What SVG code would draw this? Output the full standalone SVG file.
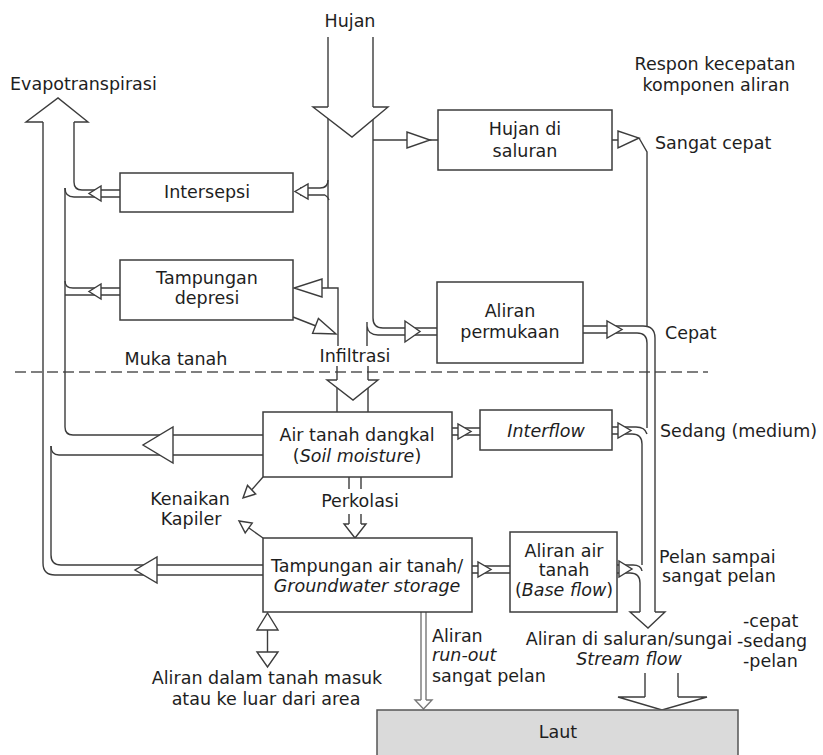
<svg xmlns="http://www.w3.org/2000/svg" width="823" height="755" viewBox="0 0 823 755">
<style>
.ln{fill:none;stroke:#3c3c3c;stroke-width:1.4}
.rn{fill:none;stroke:#777;stroke-width:1.4}
.hd{fill:#fff;stroke:#3c3c3c;stroke-width:1.4;stroke-linejoin:miter}
.box{fill:#fff;stroke:#3c3c3c;stroke-width:1.5}
.dash{fill:none;stroke:#555;stroke-width:1.5;stroke-dasharray:11 5}
text{font-family:"DejaVu Sans","Liberation Sans",sans-serif;font-size:17.5px;fill:#1e1e1e}
.m{text-anchor:middle}
.i{font-style:italic}
</style>
<rect width="823" height="755" fill="#fff"/>

<!-- ground level -->
<line class="dash" x1="15" y1="372" x2="708" y2="372"/>

<g id="connectors">
  <!-- Rain pipe -->
  <line class="ln" x1="328" y1="37" x2="328" y2="288"/>
  <path class="ln" d="M373,37 V318 Q373,328 383,328 H437"/>
  <path class="ln" d="M367,322 V346 M367,326 Q368,335 378,335 H437"/>
  <path class="ln" d="M373,140 H438"/>
  <!-- Intersepsi inflow -->
  <path class="ln" d="M328,180 Q328,188 320,188 H300 M325,195 H300 M325,195 Q328,197 329,200"/>
  <!-- Depresi inflow and jog -->
  <path class="ln" d="M318,288 H338 V346"/>
  <!-- Depresi to infiltration -->
  <line class="ln" x1="293" y1="317" x2="316" y2="326"/>
  <!-- Infiltration shafts -->
  <path class="ln" d="M337,366 V412 M368,366 V412"/>
  <!-- Hujan di saluran out -->
  <path class="ln" d="M612,140 H619 M639,138 L647,152 V326"/>
  <!-- Permukaan out + channel -->
  <path class="ln" d="M583,326 H643 Q655,326 655,338 V612"/>
  <path class="ln" d="M583,333 H637 Q647,333 647,343 V428"/>
  <!-- Interflow in/out -->
  <path class="ln" d="M452,428 H480 M452,435 H480"/>
  <path class="ln" d="M612,427 H636 Q645,427 647,434"/>
  <path class="ln" d="M612,434 H632 Q642,434 642,444 V565"/>
  <!-- Base flow in/out -->
  <path class="ln" d="M472,566 H510 M472,573 H510"/>
  <path class="ln" d="M617,565 H633 Q641,565 642,571"/>
  <path class="ln" d="M617,573 H630 Q640,573 640,583 V612"/>
  <!-- Evapotranspiration pipe -->
  <path class="ln" d="M43,122 V563 Q43,575 55,575 H263"/>
  <path class="ln" d="M74,122 V182 Q74,190 82,190 H120"/>
  <path class="ln" d="M65,188 Q65,197 74,197 H120"/>
  <path class="ln" d="M65,188 V427 Q65,435 73,435 H263"/>
  <path class="ln" d="M120,288 H73 Q65,288 65,281 M120,295 H65"/>
  <path class="ln" d="M263,455 H59 Q51,455 51,446"/>
  <path class="ln" d="M51,446 V555 Q51,565 61,565 H263"/>
  <!-- Percolation -->
  <path class="ln" d="M349,477 V489 M361,477 V489 M349,514 V524 M361,514 V524"/>
  <!-- Capillary rise -->
  <line class="ln" x1="263" y1="477" x2="252" y2="489.5"/>
  <line class="ln" x1="263" y1="538" x2="249" y2="528"/>
  <!-- Deep groundwater in/out -->
  <line class="ln" x1="267.5" y1="630" x2="267.5" y2="652"/>
  <!-- Run-out -->
  <path class="rn" d="M421,612 V700 M426,612 V700"/>
  <!-- Stream flow to sea -->
  <path class="ln" d="M645,673 V697 M678,673 V697"/>

  <!-- arrowheads -->
  <path class="hd" d="M328,107 H313 L352,137 L388,107 H373"/>
  <path class="hd" d="M43,122 H26 L58,98 L88,122 H74"/>
  <path class="hd" d="M337,380 H327 L353,400 L378,380 H368"/>
  <path class="hd" d="M640,612 H630 L648,628 L665,612 H655"/>
  <path class="hd" d="M645,697 H618 L662,710 L707,697 H678"/>
  <path class="hd" d="M349,524 H344 L355,538 L366,524 H361"/>
  <path class="hd" d="M421,700 H415 L423.5,709 L432,700 H426" style="stroke:#777"/>
  <polygon class="hd" points="407,132 407,148 430,140"/>
  <polygon class="hd" points="618,131 618,148 639,138"/>
  <polygon class="hd" points="308,184 308,199 295,191.5"/>
  <polygon class="hd" points="322,279 322,297 294,288"/>
  <polygon class="hd" points="312.6,333.3 318.4,318.5 336,334"/>
  <polygon class="hd" points="405,321 405,342 420,331.5"/>
  <polygon class="hd" points="607,321 607,338 622,329.5"/>
  <polygon class="hd" points="458,424 458,439 471,431.5"/>
  <polygon class="hd" points="618,423 618,438 631,430.5"/>
  <polygon class="hd" points="478,562 478,577 491,569.5"/>
  <polygon class="hd" points="619,561 619,577 632,569"/>
  <polygon class="hd" points="101,186 101,201 89,193.5"/>
  <polygon class="hd" points="101,284 101,299 89,291.5"/>
  <polygon class="hd" points="173,427 173,463 143,445"/>
  <polygon class="hd" points="157,557 157,583 135,570"/>
  <polygon class="hd" points="255.7,494 247.5,485.4 243,498"/>
  <polygon class="hd" points="252.2,523.1 245.2,532.9 239,521"/>
  <polygon class="hd" points="257,630 278,630 267.5,613"/>
  <polygon class="hd" points="257,652 278,652 267.5,667"/>
</g>

<g id="intersepsi">
  <rect class="box" x="120" y="173" width="173" height="39"/>
  <text class="m" x="207" y="198">Intersepsi</text>
</g>
<g id="tampungan-depresi">
  <rect class="box" x="120" y="260" width="173" height="60"/>
  <text class="m" x="207" y="284">Tampungan</text>
  <text class="m" x="207" y="304">depresi</text>
</g>
<g id="hujan-di-saluran">
  <rect class="box" x="438" y="110" width="174" height="60"/>
  <text class="m" x="525" y="135">Hujan di</text>
  <text class="m" x="525" y="157">saluran</text>
</g>
<g id="aliran-permukaan">
  <rect class="box" x="437" y="282" width="146" height="81"/>
  <text class="m" x="510" y="317">Aliran</text>
  <text class="m" x="510" y="338">permukaan</text>
</g>
<g id="air-tanah-dangkal">
  <rect class="box" x="263" y="412" width="189" height="65"/>
  <text class="m" x="357" y="441">Air tanah dangkal</text>
  <text class="m" x="357" y="462">(<tspan class="i">Soil moisture</tspan>)</text>
</g>
<g id="interflow">
  <rect class="box" x="480" y="410" width="132" height="40"/>
  <text class="m i" x="546" y="437">Interflow</text>
</g>
<g id="tampungan-air-tanah">
  <rect class="box" x="263" y="538" width="209" height="74"/>
  <text class="m" x="367" y="572">Tampungan air tanah/</text>
  <text class="m i" x="367" y="592">Groundwater storage</text>
</g>
<g id="aliran-air-tanah">
  <rect class="box" x="510" y="532" width="107" height="80"/>
  <text class="m" x="564" y="557">Aliran air</text>
  <text class="m" x="564" y="576">tanah</text>
  <text class="m" x="564" y="596">(<tspan class="i">Base flow</tspan>)</text>
</g>
<g id="laut">
  <rect x="377" y="710" width="361" height="50" fill="#dadada" stroke="#555" stroke-width="1.5"/>
  <text class="m" x="558" y="738">Laut</text>
</g>

<g id="labels">
  <text class="m" x="350" y="27">Hujan</text>
  <text x="10" y="90">Evapotranspirasi</text>
  <text class="m" x="715" y="70">Respon kecepatan</text>
  <text class="m" x="716" y="91">komponen aliran</text>
  <text x="655" y="149">Sangat cepat</text>
  <text x="665" y="339">Cepat</text>
  <text class="m" x="176" y="365">Muka tanah</text>
  <text class="m" x="355" y="362">Infiltrasi</text>
  <text x="660" y="437">Sedang (medium)</text>
  <text class="m" x="190" y="505">Kenaikan</text>
  <text class="m" x="191" y="525">Kapiler</text>
  <text class="m" x="360" y="507">Perkolasi</text>
  <text x="659" y="563">Pelan sampai</text>
  <text x="662" y="582">sangat pelan</text>
  <text x="743" y="627">-cepat</text>
  <text x="737" y="647">-sedang</text>
  <text x="743" y="667">-pelan</text>
  <text class="m" x="629" y="645">Aliran di saluran/sungai</text>
  <text class="m i" x="629" y="665">Stream flow</text>
  <text x="432" y="642">Aliran</text>
  <text class="i" x="432" y="661">run-out</text>
  <text x="432" y="682">sangat pelan</text>
  <text class="m" x="267" y="684">Aliran dalam tanah masuk</text>
  <text class="m" x="266" y="705">atau ke luar dari area</text>
</g>
</svg>
